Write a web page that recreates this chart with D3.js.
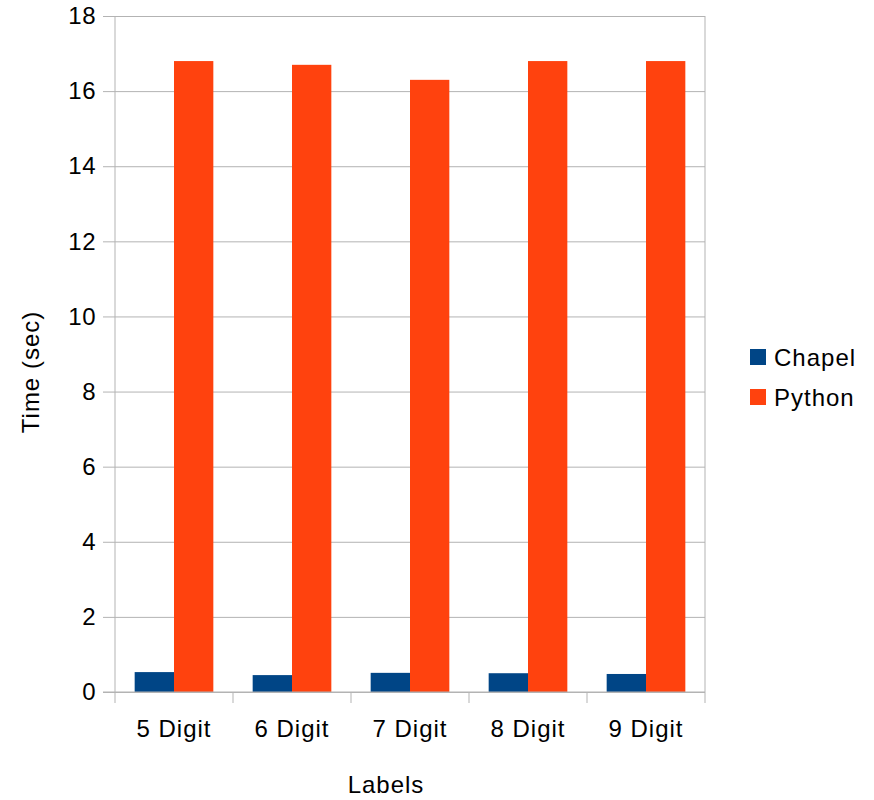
<!DOCTYPE html>
<html>
<head>
<meta charset="utf-8">
<script src="https://cdn.jsdelivr.net/npm/d3@7"></script>
<style>
  html, body { margin: 0; padding: 0; background: #ffffff; }
  svg { display: block; }
  text { font-family: "Liberation Sans", Arial, sans-serif; fill: #000; }
</style>
</head>
<body>
<svg id="chart" width="874" height="800"></svg>
<script>
// Benchmark timings: Chapel vs Python, by number of digits
const categories = ["5 Digit", "6 Digit", "7 Digit", "8 Digit", "9 Digit"];
const seriesNames = ["Chapel", "Python"];
const chapelTimes = [0.53, 0.45, 0.51, 0.50, 0.48];
const pythonTimes = [16.8, 16.7, 16.3, 16.8, 16.8];
const yTicks = [0, 2, 4, 6, 8, 10, 12, 14, 16, 18];
const colors = ["#004586", "#ff420e"];

const seriesValues = [chapelTimes, pythonTimes];
const rows = categories.map((c, i) => ({
  category: c,
  values: seriesNames.map((s, k) => ({ series: s, value: seriesValues[k][i] }))
}));

const svg = d3.select("#chart");
const plot = { left: 115, right: 705, top: 16, bottom: 692 };
const gridColor = "#b3b3b3";
const fontSize = 24;
const spacing = "1px";

const x = d3.scaleBand().domain(categories).range([plot.left, plot.right]).padding(0);
const xSeries = d3.scaleBand().domain(seriesNames).range([0, x.bandwidth()])
  .paddingInner(0).paddingOuter(0.5);
const y = d3.scaleLinear().domain([0, 18]).range([plot.bottom, plot.top]);
const color = d3.scaleOrdinal().domain(seriesNames).range(colors);

// horizontal gridlines with left tick marks
const yAxis = d3.axisLeft(y).tickValues(yTicks)
  .tickSize(-(plot.right - plot.left)).tickSizeOuter(0).tickPadding(19);
const gy = svg.append("g").attr("transform", `translate(${plot.left},0)`).call(yAxis);
gy.select(".domain").remove();
gy.selectAll(".tick line").attr("stroke", gridColor).attr("x1", -12).attr("stroke-width", 1);
gy.selectAll(".tick text").attr("font-size", fontSize).attr("letter-spacing", "0.5px")
  .attr("font-family", "Liberation Sans, Arial, sans-serif").attr("fill", "#000");

// plot frame (left and right edges)
svg.append("line").attr("x1", plot.left).attr("x2", plot.left)
  .attr("y1", plot.top).attr("y2", plot.bottom).attr("stroke", gridColor);
svg.append("line").attr("x1", plot.right).attr("x2", plot.right)
  .attr("y1", plot.top).attr("y2", plot.bottom).attr("stroke", gridColor);

// bars
const groups = svg.append("g").selectAll("g").data(rows).join("g")
  .attr("transform", d => `translate(${x(d.category)},0)`);
groups.selectAll("rect").data(d => d.values).join("rect")
  .attr("x", d => xSeries(d.series))
  .attr("width", xSeries.bandwidth())
  .attr("y", d => y(d.value))
  .attr("height", d => y(0) - y(d.value))
  .attr("fill", d => color(d.series));

// x axis with separators between categories
const bounds = categories.map(c => x(c)).concat([x.range()[1]]);
const gx = svg.append("g");
gx.append("line").attr("x1", plot.left - 12).attr("x2", plot.right)
  .attr("y1", y(0)).attr("y2", y(0)).attr("stroke", gridColor);
gx.selectAll("line.sep").data(bounds).join("line").attr("class", "sep")
  .attr("x1", d => d).attr("x2", d => d)
  .attr("y1", y(0)).attr("y2", y(0) + 11).attr("stroke", gridColor);
gx.selectAll("text").data(categories).join("text")
  .attr("x", d => x(d) + x.bandwidth() / 2)
  .attr("y", 737)
  .attr("text-anchor", "middle")
  .attr("font-size", fontSize)
  .attr("letter-spacing", spacing)
  .text(d => d);

// axis titles
svg.append("text").attr("x", (plot.left + plot.right) / 2 - 24).attr("y", 793)
  .attr("text-anchor", "middle").attr("font-size", fontSize)
  .attr("letter-spacing", spacing).text("Labels");
svg.append("text")
  .attr("transform", `translate(39,372) rotate(-90)`)
  .attr("text-anchor", "middle").attr("font-size", fontSize)
  .attr("letter-spacing", spacing).text("Time (sec)");

// legend
const legend = svg.append("g").selectAll("g").data(seriesNames).join("g")
  .attr("transform", (d, i) => `translate(750,${349 + i * 40})`);
legend.append("rect").attr("width", 16).attr("height", 16).attr("fill", d => color(d));
legend.append("text").attr("x", 24).attr("y", 17).attr("font-size", fontSize)
  .attr("letter-spacing", spacing).text(d => d);
</script>
</body>
</html>
